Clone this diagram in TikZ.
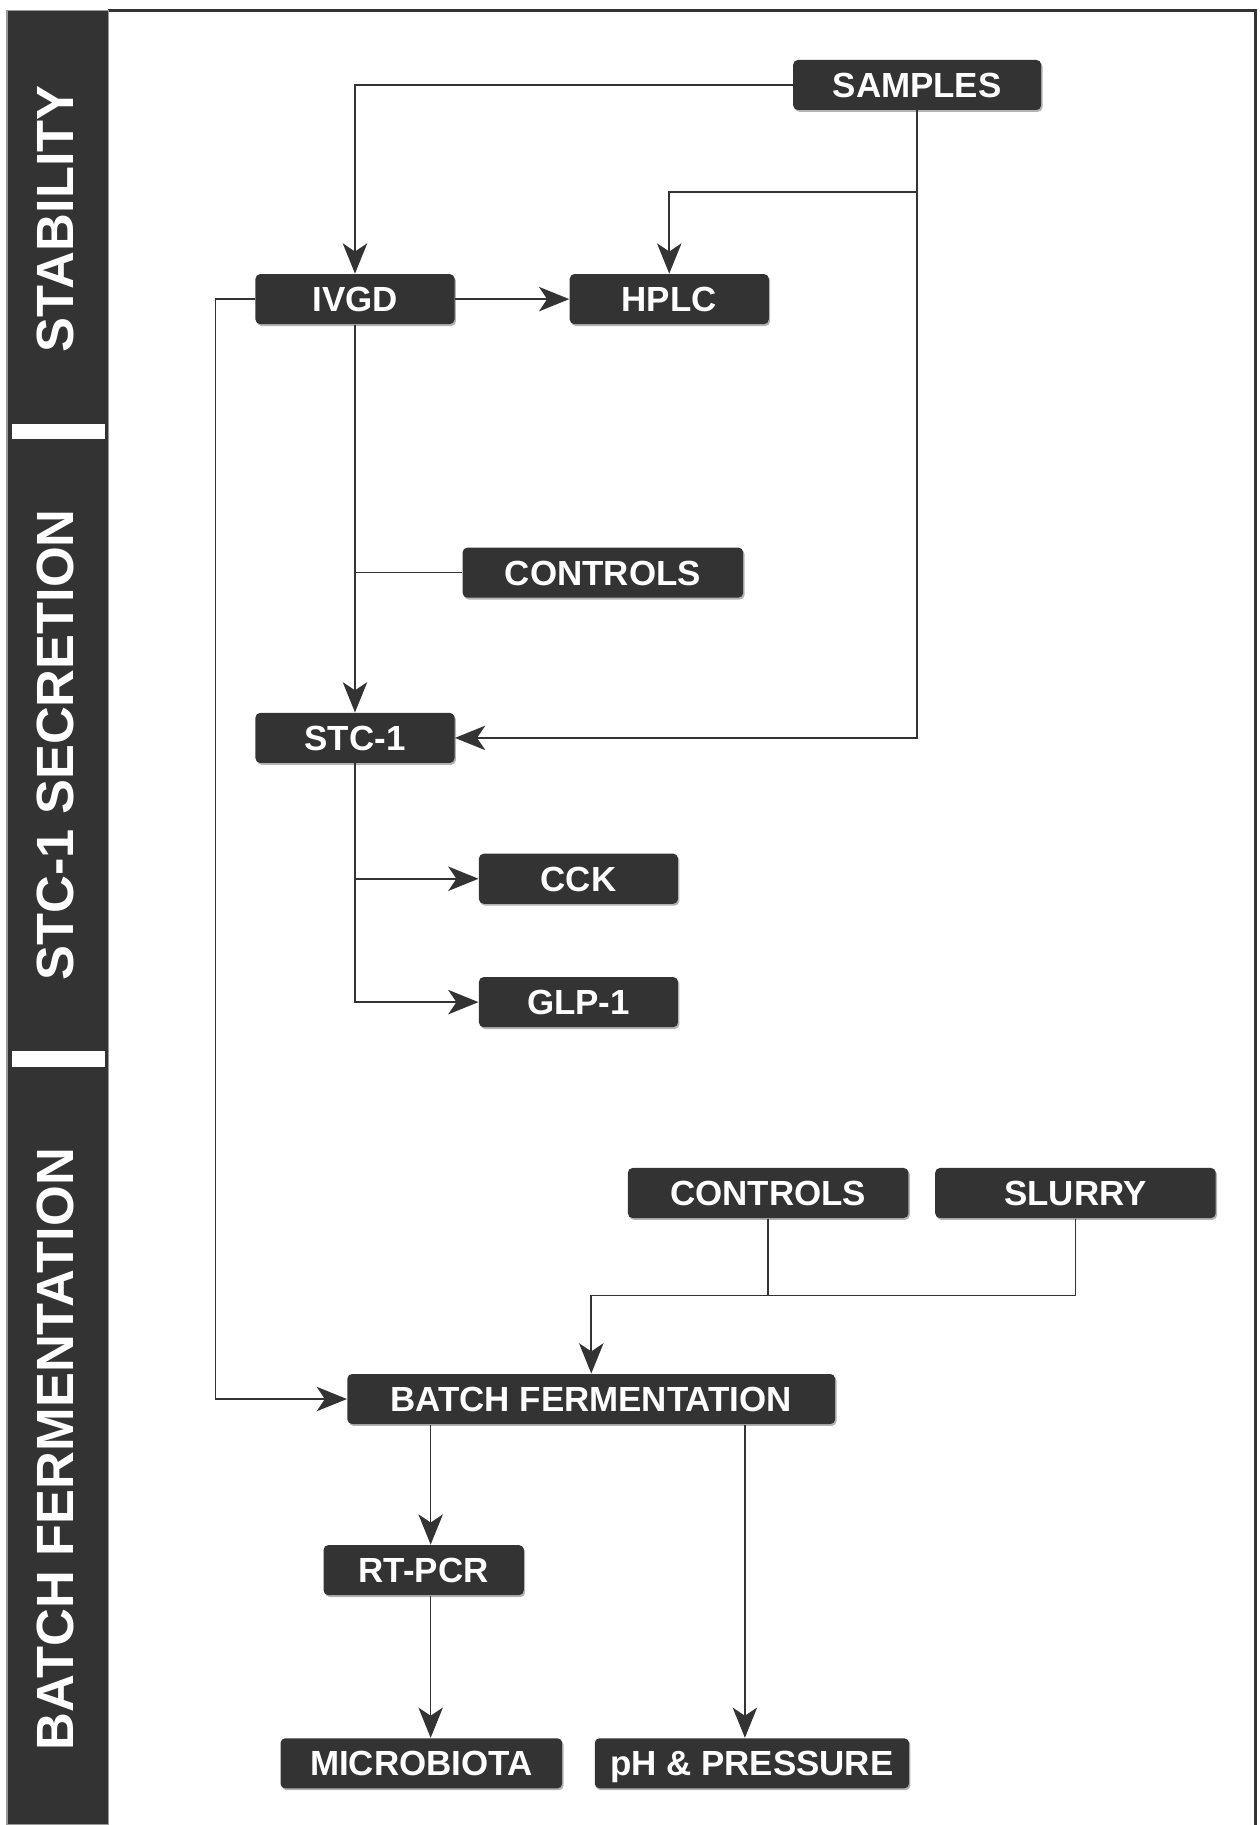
\documentclass[tikz,border=0pt]{standalone}
\usepackage{fontspec}
\setmainfont{Liberation Sans}
\usetikzlibrary{arrows.meta,shadows}
\definecolor{fonce}{HTML}{333333}
\tikzset{
  boite/.style={fill=fonce, rounded corners=2pt, text=white, inner sep=0pt,
    minimum height=21.5pt, text height=10.8pt, text depth=0pt,
    font=\fontsize{15}{18}\selectfont\bfseries,
    drop shadow={shadow xshift=0.6pt, shadow yshift=-0.8pt, fill=black!50, opacity=0.6}},
  fleche/.style={draw=fonce, line width=0.7pt, -{Stealth[length=13pt,width=10.5pt,inset=3.5pt]}},
  trait/.style={draw=fonce, line width=0.7pt},
  bande/.style={rotate=90, text=white, font=\fontsize{22.5}{26}\selectfont\bfseries}
}
\begin{document}
\begin{tikzpicture}[x=0.5pt, y=-0.5pt]
\useasboundingbox (0,0) rectangle (1082,1568);
% Cadre
\draw[line width=1.4pt, black!80] (93,9) -- (1079,9) -- (1079,1568);
% Bande
\fill[fonce] (6,9) rectangle (93,1568);
\draw[black!40, line width=0.5pt] (6,9) rectangle (93,1568);
\fill[white] (10,364) rectangle (90,377);
\fill[white] (10,903) rectangle (90,917);
\node[bande] (tstab) at (48,188) {STABILITY};
\node[bande] (tstc) at (48,640) {STC-1 SECRETION};
\node[bande] (tbatch) at (48,1245) {BATCH FERMENTATION};
% Boites
\node[boite, minimum width=106.5pt] (samples) at (788,73) {SAMPLES};
\node[boite, minimum width=85.5pt] (ivgd) at (305,257) {IVGD};
\node[boite, minimum width=85.5pt] (hplc) at (575,257) {HPLC};
\node[boite, minimum width=120.5pt] (controlsA) at (518,492) {CONTROLS};
\node[boite, minimum width=85.5pt] (stc) at (305,634) {STC-1};
\node[boite, minimum width=85.5pt] (cck) at (497,755) {CCK};
\node[boite, minimum width=85.5pt] (glp) at (497,861) {GLP-1};
\node[boite, minimum width=120.5pt] (controlsB) at (660,1025) {CONTROLS};
\node[boite, minimum width=120.5pt] (slurry) at (924,1025) {SLURRY};
\node[boite, minimum width=209.5pt] (batch) at (508,1202) {BATCH FERMENTATION};
\node[boite, minimum width=86pt] (rtpcr) at (364,1349) {RT-PCR};
\node[boite, minimum width=121pt] (microbiota) at (362,1515) {MICROBIOTA};
\node[boite, minimum width=135pt] (ph) at (646,1515) {pH \& PRESSURE};
% Points de passage
\coordinate (j1) at (788,165);
\coordinate (j2) at (185,257);
\coordinate (j3) at (508,1113);
\coordinate (colA) at (370,0);
\coordinate (colB) at (640,0);
% Fleches
\draw[fleche] (samples.west) -| (ivgd.north);
\draw[trait] (samples.south) -- (j1);
\draw[fleche] (j1) -| (hplc.north);
\draw[fleche] (j1) |- (stc.east);
\draw[fleche] (ivgd) -- (hplc);
\draw[fleche] (ivgd) -- (stc);
\draw[trait] (controlsA.west) -- (controlsA.west -| ivgd.south);
\draw[fleche] (stc.south) |- (glp.west);
\draw[fleche] (stc.south |- cck.west) -- (cck.west);
\draw[fleche] (ivgd.west) -- (j2) |- (batch.west);
\draw[trait] (controlsB.south) -- (controlsB.south |- j3);
\draw[trait] (slurry.south) |- (j3);
\draw[fleche] (j3) -- (batch.north);
\draw[fleche] (batch.south -| colA) -- (rtpcr.north -| colA);
\draw[fleche] (rtpcr.south -| colA) -- (microbiota.north -| colA);
\draw[fleche] (batch.south -| colB) -- (ph.north -| colB);
\end{tikzpicture}
\end{document}
